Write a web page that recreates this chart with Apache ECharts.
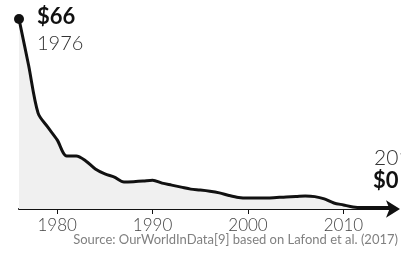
<!DOCTYPE html>
<html>
<head>
<meta charset="utf-8">
<script src="https://cdn.jsdelivr.net/npm/echarts@6/dist/echarts.min.js"></script>
<style>
  html, body { margin: 0; padding: 0; background: #fff; }
  #chart-container { width: 401px; height: 254px; }
</style>
</head>
<body>
<div id="chart-container"></div>
<script>
const years = [
  1976, 1977, 1978, 1979, 1980, 1981, 1982, 1983, 1984, 1985,
  1986, 1987, 1988, 1989, 1990, 1991, 1992, 1993, 1994, 1995,
  1996, 1997, 1998, 1999, 2000, 2001, 2002, 2003, 2004, 2005,
  2006, 2007, 2008, 2009, 2010, 2011, 2012, 2013, 2014, 2015
];
const prices = [
  66, 50, 33.3, 28.5, 24, 18.4, 18.4, 16.7, 13.9, 12.2,
  11.1, 9.4, 9.5, 9.7, 10, 9, 8.3, 7.6, 6.9, 6.6,
  6.2, 5.6, 4.7, 4, 3.8, 3.8, 3.8, 4, 4.2, 4.3,
  4.5, 4.3, 3.5, 2.1, 1.4, 0.7, 0.5, 0.5, 0.5, 0.5
];
const tickYears = [1980, 1990, 2000, 2010];

const seriesData = years.map((y, i) =>
  i === 0
    ? { value: [y, prices[i]], symbol: "circle", symbolSize: 10 }
    : [y, prices[i]]
);

const font = "Lato, 'Open Sans', sans-serif";

const dom = document.getElementById("chart-container");
const myChart = echarts.init(dom, null, { renderer: "canvas" });

const option = {
  animation: false,
  grid: { left: 19, right: 7, top: 19, bottom: 45 },
  xAxis: {
    type: "value",
    min: 1976,
    max: 2015.3,
    splitLine: { show: false },
    axisLine: {
      show: true,
      symbol: ["none", "arrow"],
      symbolSize: [13, 14],
      symbolOffset: [0, 6],
      lineStyle: { color: "#111", width: 2 }
    },
    axisTick: {
      show: true,
      customValues: tickYears,
      length: 5,
      lineStyle: { color: "#111", width: 1 }
    },
    axisLabel: {
      customValues: tickYears,
      formatter: (v) => String(v),
      color: "#444",
      fontFamily: font,
      fontWeight: 300,
      fontSize: 17,
      margin: 8
    }
  },
  yAxis: {
    type: "value",
    min: 0,
    max: 66,
    show: false,
    splitLine: { show: false }
  },
  series: [
    {
      type: "line",
      data: seriesData,
      smooth: 0.3,
      symbol: "none",
      showSymbol: true,
      itemStyle: { color: "#111" },
      lineStyle: { color: "#111", width: 3 },
      areaStyle: { color: "#f0f0f0", opacity: 1 },
      z: 3
    }
  ],
  graphic: [
    {
      type: "text",
      left: 37,
      top: 6,
      style: { text: "$66", font: "bold 22px " + font, fill: "#111" }
    },
    {
      type: "text",
      left: 37,
      top: 34,
      style: { text: "1976", font: "300 20px " + font, fill: "#333" }
    },
    {
      type: "text",
      left: 374,
      top: 148,
      style: { text: "2016", font: "300 21px " + font, fill: "#333" }
    },
    {
      type: "text",
      left: 373,
      top: 170,
      style: { text: "$0", font: "bold 22px " + font, fill: "#111" }
    },
    {
      type: "text",
      right: 3,
      top: 233,
      style: {
        text: "Source: OurWorldInData[9] based on Lafond et al. (2017)",
        font: "13px " + font,
        fill: "#808080"
      }
    }
  ]
};

myChart.setOption(option);
window.addEventListener("resize", myChart.resize);
</script>
</body>
</html>
